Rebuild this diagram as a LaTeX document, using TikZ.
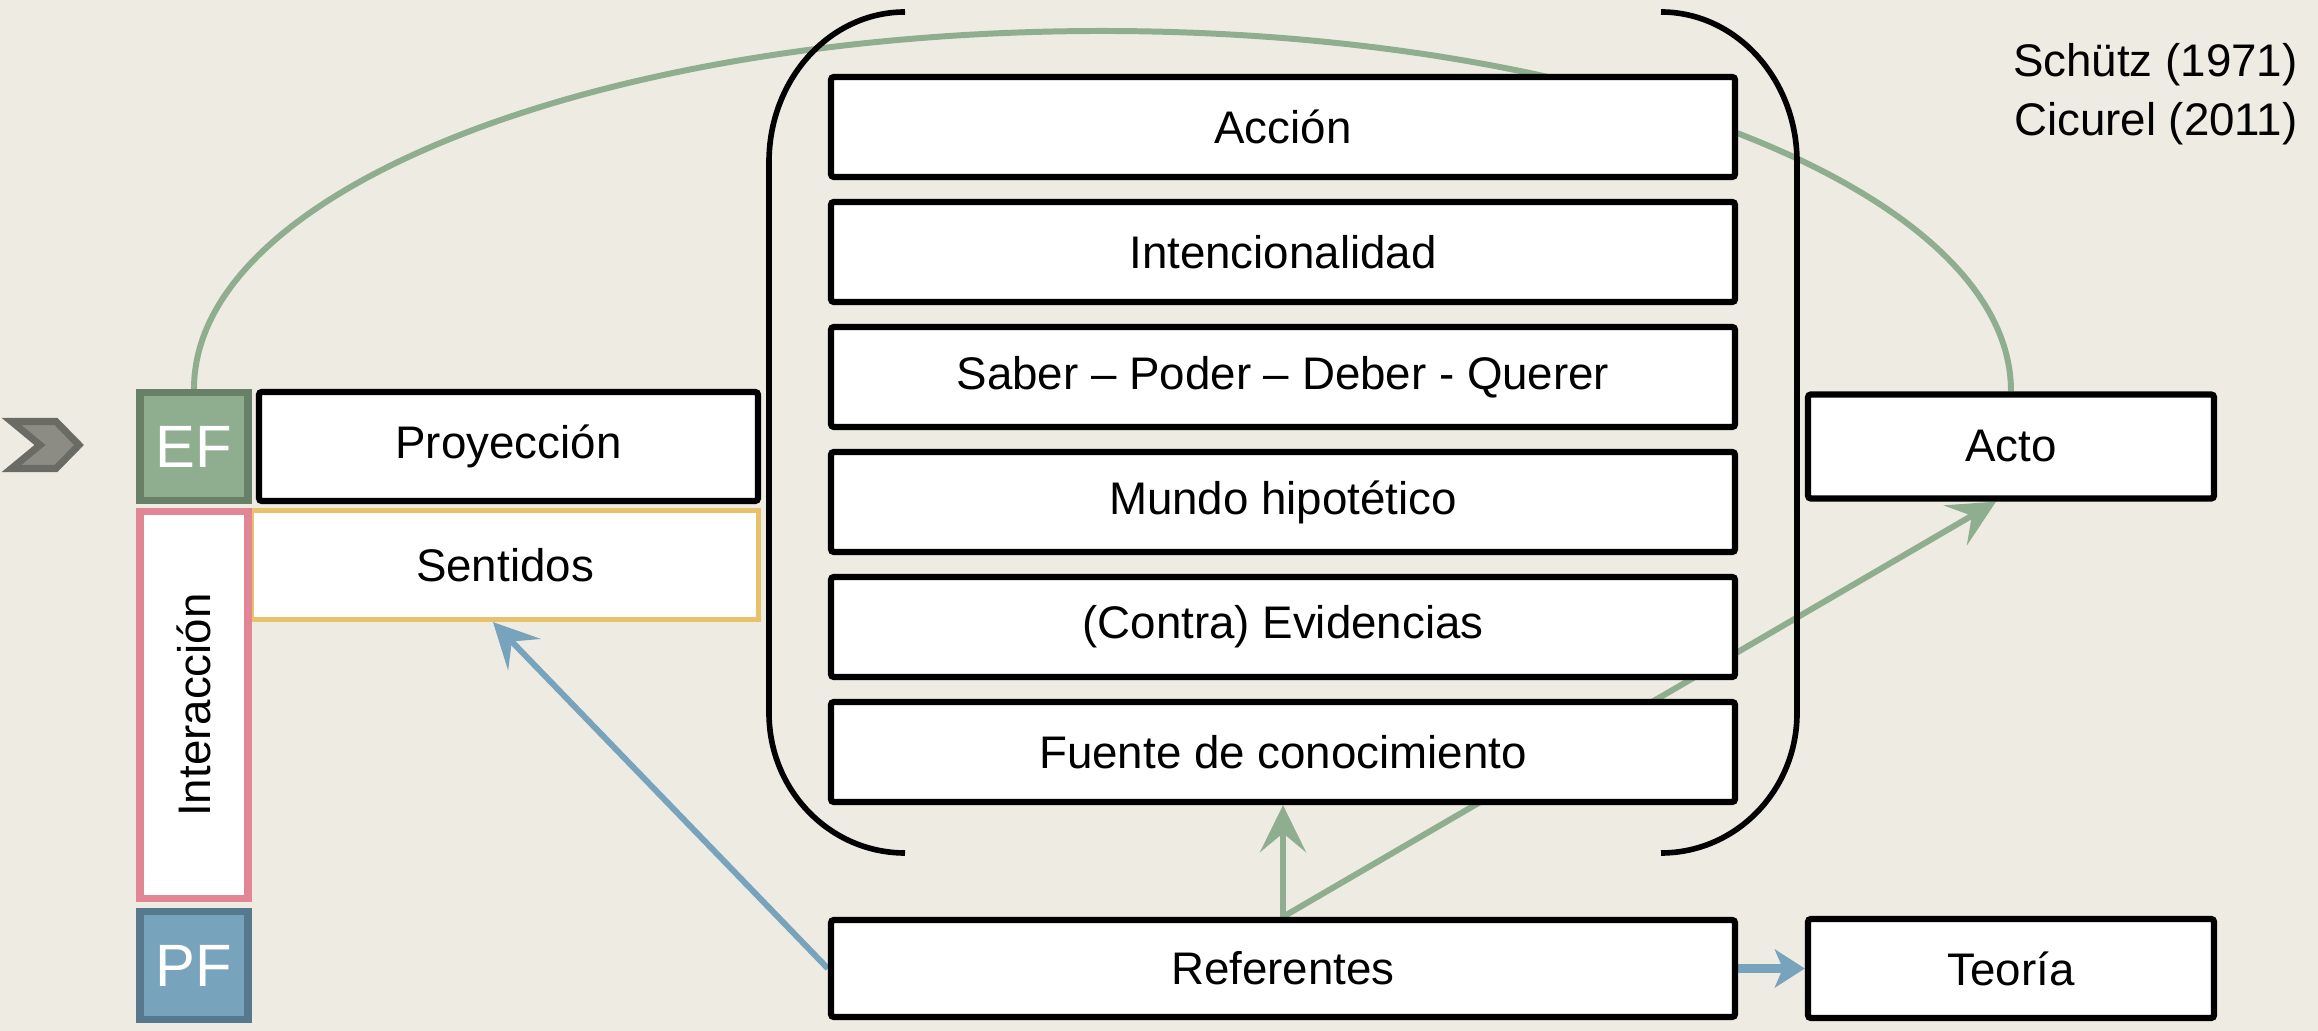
\documentclass[tikz,border=0pt]{standalone}
\usepackage{fontspec}
\setmainfont{Liberation Sans}
\usetikzlibrary{positioning, calc, arrows.meta, backgrounds}

\definecolor{fondo}{HTML}{EEEBE3}
\definecolor{verde}{HTML}{8FAD8F}
\definecolor{verdeosc}{HTML}{687F68}
\definecolor{azul}{HTML}{77A3BD}
\definecolor{azulosc}{HTML}{57798E}
\definecolor{rosa}{HTML}{E28595}
\definecolor{amarillo}{HTML}{E8C26A}
\definecolor{gris}{HTML}{8C8C85}
\definecolor{grisosc}{HTML}{6B6B65}

\begin{document}
\begin{tikzpicture}[
		caja/.style={draw, line width=1.8pt, fill=white, rounded corners=0.03cm, minimum width=9.04cm, minimum height=1cm, font=\fontsize{13}{15}\selectfont},
		corta/.style={caja, minimum width=4.06cm, minimum height=1.04cm},
		ladof/.style={draw, line width=2pt, minimum width=1.08cm, minimum height=1.08cm, text=white, font=\fontsize{17}{19}\selectfont},
		corchete/.style={draw, line width=1.6pt},
		verdeflecha/.style={draw=verde, line width=1.7pt, -{Stealth[length=0.47cm, width=0.46cm, inset=0.19cm]}},
		azulflecha/.style={draw=azul, line width=1.7pt, -{Stealth[length=0.45cm, width=0.45cm, inset=0.18cm]}}
	]
			% columna izquierda
			\draw[fill=gris, draw=grisosc, line width=2pt] (0.115,6.095) -- (0.56,6.095) -- (0.79,5.86) -- (0.56,5.625) -- (0.115,5.625) -- (0.40,5.86) -- cycle;
			\node (ef) at (1.94, 5.845) [ladof, fill=verde, draw=verdeosc] {EF};
			\node (sent) at (5.05, 4.66) [draw=amarillo, line width=1.5pt, fill=white, minimum width=5.07cm, minimum height=1.09cm, font=\fontsize{13}{15}\selectfont] {Sentidos};
			\node (inter) at (1.94, 3.26) [draw=rosa, line width=2pt, fill=white, rotate=90, minimum width=3.87cm, minimum height=1.08cm, font=\fontsize{13}{15}\selectfont] {Interacción};
			\node (pf) at (1.94, 0.655) [ladof, fill=azul, draw=azulosc] {PF};
			\node (proy) at (5.085, 5.845) [caja, minimum width=4.99cm, minimum height=1.09cm] {Proyección};
			
			% centro
			\node (accion) at (12.83, 9.04) [caja] {Acción};
			\node (intenc) at (12.83, 7.79) [caja] {Intencionalidad};
			\node (saber) at (12.83, 6.54) [caja] {Saber – Poder – Deber - Querer};
			\node (mundo) at (12.83, 5.29) [caja] {Mundo hipotético};
			\node (contra) at (12.83, 4.04) [caja] {(Contra) Evidencias};
			\node (fuente) at (12.83, 2.79) [caja] {Fuente de conocimiento};
			\node (ref) at (12.83, 0.625) [caja, minimum height=0.97cm] {Referentes};
			
			\draw[corchete] (9.05,10.19) arc[start angle=90, end angle=180, x radius=1.36, y radius=1.5] -- (7.69,3.18) arc[start angle=180, end angle=270, x radius=1.36, y radius=1.4];
			\draw[corchete] (16.61,10.19) arc[start angle=90, end angle=0, x radius=1.36, y radius=1.5] -- (17.97,3.18) arc[start angle=0, end angle=-90, x radius=1.36, y radius=1.4];
			
			% derecha
			\node (acto) at (20.11, 5.845) [corta] {Acto};
			\node (teoria) at (20.11, 0.625) [corta, minimum height=0.99cm] {Teoría};
			\node (autores) at (23.1, 9.365) [anchor=east, align=right, font=\fontsize{13}{16.8}\selectfont] {Schütz (1971)\\Cicurel (2011)};
			
			\begin{pgfonlayer}{background}
				\fill[fondo] (0,0) rectangle (23.18,10.31);
				\coordinate (cima) at (11.025, 10.0);
				\draw[verde, line width=1.7pt] (ef.north) .. controls +(0,2.0) and +(-5.02,0) .. (cima) .. controls +(5.02,0) and +(0,2.0) .. (acto.north);
				\draw[verdeflecha] (ref.north) to (fuente.south);
				\draw[verdeflecha] (ref.north) to ([xshift=-0.15cm]acto.south);
				\draw[azulflecha] (ref.west) to ([xshift=-0.12cm]sent.south);
				\draw[azul, line width=2.4pt, -{Stealth[length=0.3cm, width=0.38cm, inset=0.08cm]}] (ref.east) to (teoria.west);
			\end{pgfonlayer}
			\useasboundingbox (0,0) rectangle (23.18,10.31);
		\end{tikzpicture}
\end{document}
